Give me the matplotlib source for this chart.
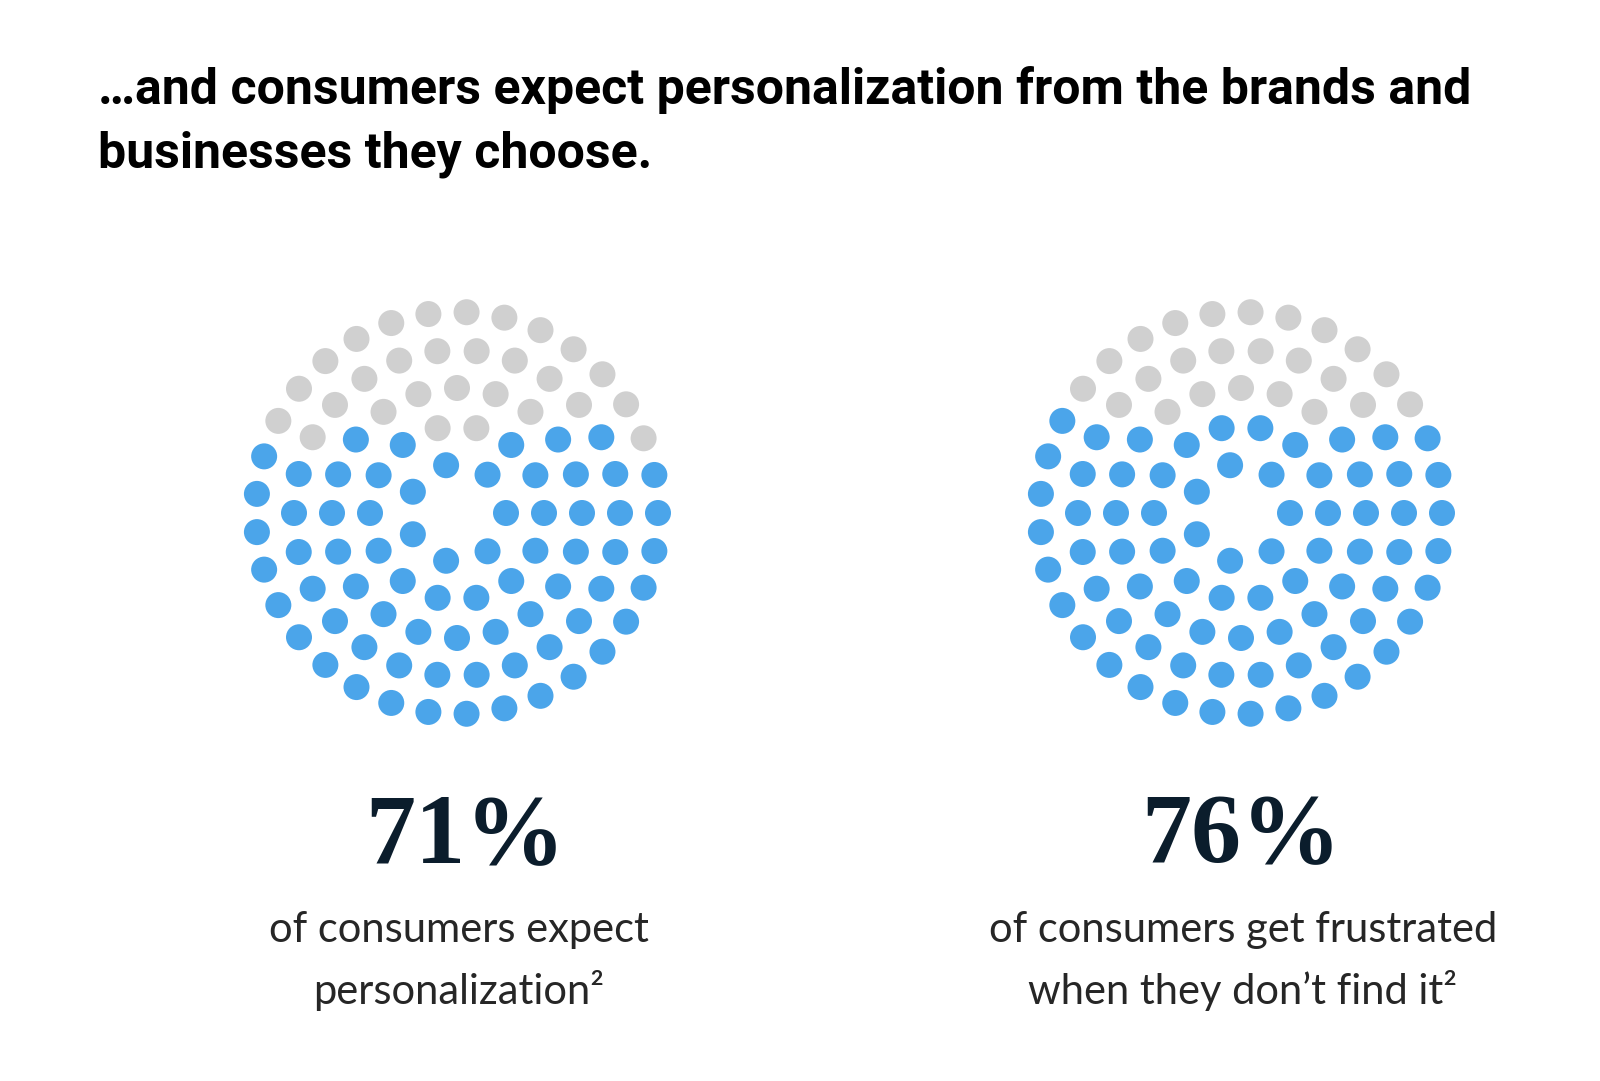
import numpy as np
import matplotlib
matplotlib.use('Agg')
import matplotlib.pyplot as plt


#### Personalization dot rings ####

title_lines = ['\u2026and consumers expect personalization from the brands and',
               'businesses they choose.']
percent_labels = ['71%', '76%']
captions = [['of consumers expect', 'personalization\u00b2'],
            ['of consumers get frustrated', 'when they don\u2019t find it\u00b2']]

# dots per ring, inner -> outer (100 dots in total)
ring_counts = [7, 14, 20, 26, 33]
# grey dots per ring (inner -> outer)
grey_left = [0, 2, 5, 9, 13]    # 29 grey -> 71% blue
grey_right = [0, 0, 5, 8, 11]   # 24 grey -> 76% blue

blue = '#4ba5ea'
grey = '#d0d0d0'
navy = '#0b1d2c'

W, H = 1600, 1081
fig = plt.figure(figsize=(W / 100, H / 100), dpi=100)
ax = fig.add_axes([0, 0, 1, 1])
ax.set_xlim(0, W)
ax.set_ylim(H, 0)
ax.axis('off')

ring_radius = [49, 87, 125, 163, 201]
dot_size = (26 * 0.72) ** 2


def draw_rings(cx, cy, greys):
    xs, ys, cs = [], [], []
    for n, r, g in zip(ring_counts, ring_radius, greys):
        start = int(np.floor(n / 4 - (g - 1) / 2 + 0.5))
        grey_idx = set(range(start, start + g))
        for k in range(n):
            a = 2 * np.pi * k / n
            xs.append(cx + r * np.cos(a))
            ys.append(cy - r * np.sin(a))
            cs.append(grey if k in grey_idx else blue)
    ax.scatter(xs, ys, s=dot_size, c=cs, linewidths=0)


centers = [(457, 513), (1241, 513)]
draw_rings(*centers[0], grey_left)
draw_rings(*centers[1], grey_right)

# Title
for line, y in zip(title_lines, [104, 167]):
    ax.text(98, y, line, fontsize=36, fontweight='bold', family='Roboto',
            color='black', va='baseline', ha='left')

# Big numbers and captions
for (cx, cy), pct, cap, dx in zip(centers, percent_labels, captions, [8, 0]):
    ax.text(cx + dx, 862, pct, fontsize=72, fontweight='bold',
            family='Liberation Serif', color=navy, ha='center', va='baseline')
    for line, y in zip(cap, [942, 1004]):
        ax.text(cx + 2, y, line, fontsize=30, fontweight='normal', family='Lato',
                color='#262626', ha='center', va='baseline')

fig.savefig('out.png', dpi=100, facecolor='white')
